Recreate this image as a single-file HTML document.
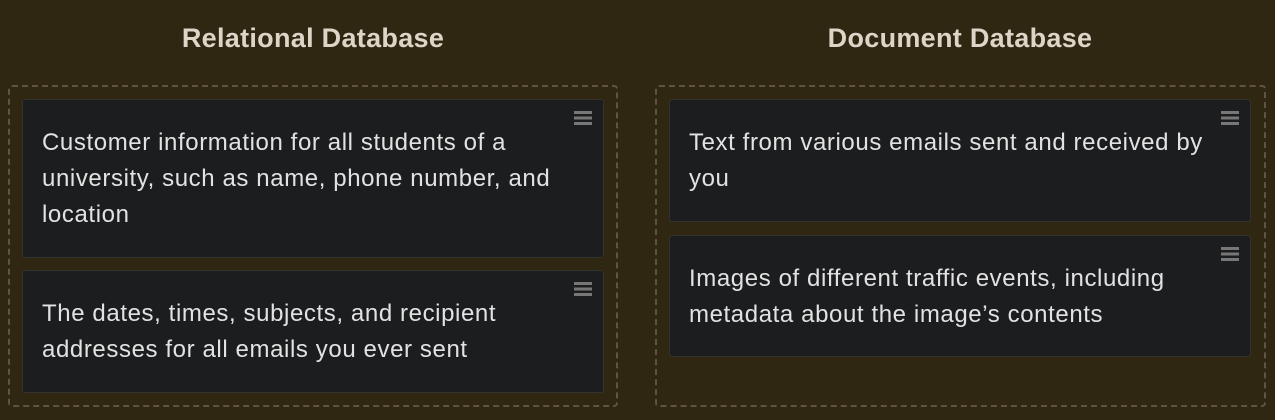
<!DOCTYPE html>
<html><head><style>
body{margin:0;width:1275px;height:420px;background:#302712;font-family:"Liberation Sans",sans-serif;position:relative;overflow:hidden}
.t{position:absolute;top:23px;font-weight:bold;font-size:27px;color:#ddd5c8;text-align:center;width:610px;letter-spacing:0.3px}
.box{position:absolute;top:85px;height:322px;border:2px dashed #5e5440;border-radius:4px;box-sizing:border-box}
.c{position:absolute;background:#1c1d1f;border:1px solid #34332f;border-radius:3px;box-sizing:border-box;padding:25px 40px 0 19px;color:#e2e2e2;font-size:24px;letter-spacing:0.6px;line-height:36px}
.h{position:absolute;right:11px;top:11px;width:18px;height:14px;background:linear-gradient(#777 0 3px,transparent 3px 5.5px,#777 5.5px 8.5px,transparent 8.5px 11px,#777 11px 14px)}
</style></head><body>
<div class="t" style="left:8px">Relational Database</div>
<div class="t" style="left:655px">Document Database</div>
<div class="box" style="left:8px;width:610px"></div>
<div class="box" style="left:655px;width:611px"></div>
<div class="c" style="left:22px;top:99px;width:582px;height:159px"><div class="h"></div>Customer information for all students of a university, such as name, phone number, and location</div>
<div class="c" style="left:22px;top:270px;width:582px;height:123px"><div class="h"></div>The dates, times, subjects, and recipient addresses for all emails you ever sent</div>
<div class="c" style="left:669px;top:99px;width:582px;height:123px"><div class="h"></div>Text from various emails sent and received by<br>you</div>
<div class="c" style="left:669px;top:235px;width:582px;height:122px"><div class="h"></div>Images of different traffic events, including metadata about the image’s contents</div>
</body></html>
